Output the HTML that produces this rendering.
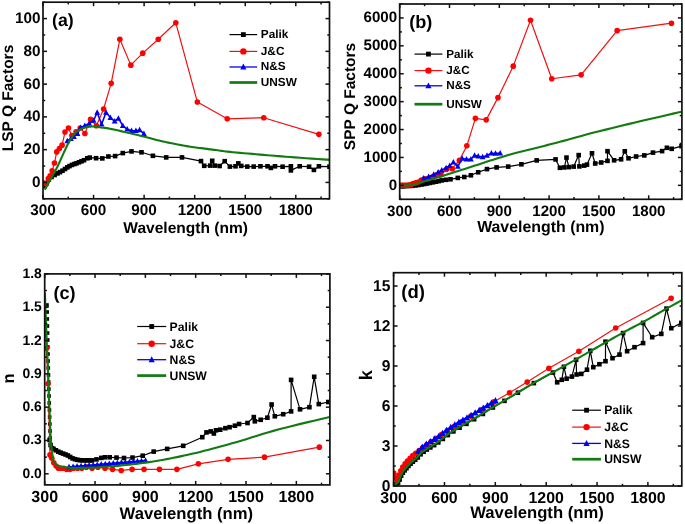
<!DOCTYPE html>
<html><head><meta charset="utf-8"><style>
html,body{margin:0;padding:0;background:#fff;}
body{width:685px;height:524px;overflow:hidden;}
svg{display:block;filter:blur(0.35px);text-rendering:geometricPrecision;}
</style></head><body>
<svg width="685" height="524" viewBox="0 0 685 524">
<rect width="685" height="524" fill="#fff"/>
<clipPath id="ca"><rect x="43" y="2.2" width="286.5" height="196.6"/></clipPath>
<clipPath id="cb"><rect x="399.7" y="4" width="282.2" height="195.3"/></clipPath>
<clipPath id="cc"><rect x="44.7" y="273.9" width="285.2" height="211"/></clipPath>
<clipPath id="cd"><rect x="393.6" y="272.7" width="288.2" height="213.3"/></clipPath>
<g font-family='"Liberation Sans", sans-serif' font-weight="bold" fill="#000">
<g clip-path="url(#ca)">
<polyline points="44.5,186 46.5,183 48.8,179.6 51.5,177 54.6,175 57.5,173.4 60,172.1 62.5,170.7 65,169 67.3,167.4 69.5,166.1 72,164.9 74.5,164 76.5,163.3 79,162.3 81.5,161.3 84,160.2 87.3,158.3 89.8,157.6 96.1,158.2 102.3,158.4 108.4,156.5 115.1,156.1 122.8,153.1 131.5,151.4 141.5,152.3 152.9,155.8 166.2,157.4 182,157.4 201,161.1 204.2,165.8 210.2,165.6 212.2,160.8 214.7,165.6 219.6,166 224.7,161.2 229.9,166.6 235.5,166.3 238.3,163.4 241.2,165.9 247.3,166.6 253.7,166.6 260.4,166.3 267.5,166.3 270.9,167.9 275,166.3 282.6,166.7 290.9,166.3 290.9,170.4 299.7,166.3 309.1,166.7 313.9,169.9 318.9,166.3 329.5,166.7" fill="none" stroke="#000" stroke-width="1.2" stroke-linejoin="round" />
<rect x="42.2" y="183.7" width="4.6" height="4.6" fill="#000"/>
<rect x="44.2" y="180.7" width="4.6" height="4.6" fill="#000"/>
<rect x="46.5" y="177.3" width="4.6" height="4.6" fill="#000"/>
<rect x="49.2" y="174.7" width="4.6" height="4.6" fill="#000"/>
<rect x="52.3" y="172.7" width="4.6" height="4.6" fill="#000"/>
<rect x="55.2" y="171.1" width="4.6" height="4.6" fill="#000"/>
<rect x="57.7" y="169.8" width="4.6" height="4.6" fill="#000"/>
<rect x="60.2" y="168.4" width="4.6" height="4.6" fill="#000"/>
<rect x="62.7" y="166.7" width="4.6" height="4.6" fill="#000"/>
<rect x="65" y="165.1" width="4.6" height="4.6" fill="#000"/>
<rect x="67.2" y="163.8" width="4.6" height="4.6" fill="#000"/>
<rect x="69.7" y="162.6" width="4.6" height="4.6" fill="#000"/>
<rect x="72.2" y="161.7" width="4.6" height="4.6" fill="#000"/>
<rect x="74.2" y="161" width="4.6" height="4.6" fill="#000"/>
<rect x="76.7" y="160" width="4.6" height="4.6" fill="#000"/>
<rect x="79.2" y="159" width="4.6" height="4.6" fill="#000"/>
<rect x="81.7" y="157.9" width="4.6" height="4.6" fill="#000"/>
<rect x="85" y="156" width="4.6" height="4.6" fill="#000"/>
<rect x="87.5" y="155.3" width="4.6" height="4.6" fill="#000"/>
<rect x="93.8" y="155.9" width="4.6" height="4.6" fill="#000"/>
<rect x="100" y="156.1" width="4.6" height="4.6" fill="#000"/>
<rect x="106.1" y="154.2" width="4.6" height="4.6" fill="#000"/>
<rect x="112.8" y="153.8" width="4.6" height="4.6" fill="#000"/>
<rect x="120.5" y="150.8" width="4.6" height="4.6" fill="#000"/>
<rect x="129.2" y="149.1" width="4.6" height="4.6" fill="#000"/>
<rect x="139.2" y="150" width="4.6" height="4.6" fill="#000"/>
<rect x="150.6" y="153.5" width="4.6" height="4.6" fill="#000"/>
<rect x="163.9" y="155.1" width="4.6" height="4.6" fill="#000"/>
<rect x="179.7" y="155.1" width="4.6" height="4.6" fill="#000"/>
<rect x="198.7" y="158.8" width="4.6" height="4.6" fill="#000"/>
<rect x="201.9" y="163.5" width="4.6" height="4.6" fill="#000"/>
<rect x="207.9" y="163.3" width="4.6" height="4.6" fill="#000"/>
<rect x="209.9" y="158.5" width="4.6" height="4.6" fill="#000"/>
<rect x="212.4" y="163.3" width="4.6" height="4.6" fill="#000"/>
<rect x="217.3" y="163.7" width="4.6" height="4.6" fill="#000"/>
<rect x="222.4" y="158.9" width="4.6" height="4.6" fill="#000"/>
<rect x="227.6" y="164.3" width="4.6" height="4.6" fill="#000"/>
<rect x="233.2" y="164" width="4.6" height="4.6" fill="#000"/>
<rect x="236" y="161.1" width="4.6" height="4.6" fill="#000"/>
<rect x="238.9" y="163.6" width="4.6" height="4.6" fill="#000"/>
<rect x="245" y="164.3" width="4.6" height="4.6" fill="#000"/>
<rect x="251.4" y="164.3" width="4.6" height="4.6" fill="#000"/>
<rect x="258.1" y="164" width="4.6" height="4.6" fill="#000"/>
<rect x="265.2" y="164" width="4.6" height="4.6" fill="#000"/>
<rect x="268.6" y="165.6" width="4.6" height="4.6" fill="#000"/>
<rect x="272.7" y="164" width="4.6" height="4.6" fill="#000"/>
<rect x="280.3" y="164.4" width="4.6" height="4.6" fill="#000"/>
<rect x="288.6" y="164" width="4.6" height="4.6" fill="#000"/>
<rect x="288.6" y="168.1" width="4.6" height="4.6" fill="#000"/>
<rect x="297.4" y="164" width="4.6" height="4.6" fill="#000"/>
<rect x="306.8" y="164.4" width="4.6" height="4.6" fill="#000"/>
<rect x="311.6" y="167.6" width="4.6" height="4.6" fill="#000"/>
<rect x="316.6" y="164" width="4.6" height="4.6" fill="#000"/>
<rect x="327.2" y="164.4" width="4.6" height="4.6" fill="#000"/>
<polyline points="43.15,182.97 44.8,183.47 46.44,183.71 48.31,178.59 50.16,175.84 52.13,170.85 54.44,163.06 56.74,151.9 59.41,148.52 62.09,145.16 64.99,132.01 68.43,128.02 71.89,135.43 76.01,131.76 80.23,127.97 84.9,133.47 90.54,119.22 96.39,125.74 103.59,108.98 111.17,83.35 119.85,39.29 130.82,65.14 142.77,53.16 158.27,39.23 175.8,22.79 197.37,102.07 227.2,118.78 263.77,117.71 318.88,134.37" fill="none" stroke="#f01010" stroke-width="1.2" stroke-linejoin="round" />
<circle cx="43.15" cy="182.97" r="2.8" fill="#f00"/>
<circle cx="44.8" cy="183.47" r="2.8" fill="#f00"/>
<circle cx="46.44" cy="183.71" r="2.8" fill="#f00"/>
<circle cx="48.31" cy="178.59" r="2.8" fill="#f00"/>
<circle cx="50.16" cy="175.84" r="2.8" fill="#f00"/>
<circle cx="52.13" cy="170.85" r="2.8" fill="#f00"/>
<circle cx="54.44" cy="163.06" r="2.8" fill="#f00"/>
<circle cx="56.74" cy="151.9" r="2.8" fill="#f00"/>
<circle cx="59.41" cy="148.52" r="2.8" fill="#f00"/>
<circle cx="62.09" cy="145.16" r="2.8" fill="#f00"/>
<circle cx="64.99" cy="132.01" r="2.8" fill="#f00"/>
<circle cx="68.43" cy="128.02" r="2.8" fill="#f00"/>
<circle cx="71.89" cy="135.43" r="2.8" fill="#f00"/>
<circle cx="76.01" cy="131.76" r="2.8" fill="#f00"/>
<circle cx="80.23" cy="127.97" r="2.8" fill="#f00"/>
<circle cx="84.9" cy="133.47" r="2.8" fill="#f00"/>
<circle cx="90.54" cy="119.22" r="2.8" fill="#f00"/>
<circle cx="96.39" cy="125.74" r="2.8" fill="#f00"/>
<circle cx="103.59" cy="108.98" r="2.8" fill="#f00"/>
<circle cx="111.17" cy="83.35" r="2.8" fill="#f00"/>
<circle cx="119.85" cy="39.29" r="2.8" fill="#f00"/>
<circle cx="130.82" cy="65.14" r="2.8" fill="#f00"/>
<circle cx="142.77" cy="53.16" r="2.8" fill="#f00"/>
<circle cx="158.27" cy="39.23" r="2.8" fill="#f00"/>
<circle cx="175.8" cy="22.79" r="2.8" fill="#f00"/>
<circle cx="197.37" cy="102.07" r="2.8" fill="#f00"/>
<circle cx="227.2" cy="118.78" r="2.8" fill="#f00"/>
<circle cx="263.77" cy="117.71" r="2.8" fill="#f00"/>
<circle cx="318.88" cy="134.37" r="2.8" fill="#f00"/>
<polyline points="67.3,141 70.9,138.8 73.9,136.6 77.5,133.7 80.4,127.8 84.8,125.7 89.2,123.5 93.6,120.5 97.2,112.5 101.6,124.2 106,112.5 110.4,117.6 114.7,121.3 118.4,118.4 122.8,125.7 127.2,129.3 131.5,130.8 135.9,130.8 139.6,130 143.9,133.7" fill="none" stroke="#0000f0" stroke-width="1.6" stroke-linejoin="round" />
<path d="M67.3 137.81L70.2 143.32L64.4 143.32Z" fill="#0000f0"/>
<path d="M70.9 135.61L73.8 141.12L68 141.12Z" fill="#0000f0"/>
<path d="M73.9 133.41L76.8 138.92L71 138.92Z" fill="#0000f0"/>
<path d="M77.5 130.51L80.4 136.02L74.6 136.02Z" fill="#0000f0"/>
<path d="M80.4 124.61L83.3 130.12L77.5 130.12Z" fill="#0000f0"/>
<path d="M84.8 122.51L87.7 128.02L81.9 128.02Z" fill="#0000f0"/>
<path d="M89.2 120.31L92.1 125.82L86.3 125.82Z" fill="#0000f0"/>
<path d="M93.6 117.31L96.5 122.82L90.7 122.82Z" fill="#0000f0"/>
<path d="M97.2 109.31L100.1 114.82L94.3 114.82Z" fill="#0000f0"/>
<path d="M101.6 121.01L104.5 126.52L98.7 126.52Z" fill="#0000f0"/>
<path d="M106 109.31L108.9 114.82L103.1 114.82Z" fill="#0000f0"/>
<path d="M110.4 114.41L113.3 119.92L107.5 119.92Z" fill="#0000f0"/>
<path d="M114.7 118.11L117.6 123.62L111.8 123.62Z" fill="#0000f0"/>
<path d="M118.4 115.21L121.3 120.72L115.5 120.72Z" fill="#0000f0"/>
<path d="M122.8 122.51L125.7 128.02L119.9 128.02Z" fill="#0000f0"/>
<path d="M127.2 126.11L130.1 131.62L124.3 131.62Z" fill="#0000f0"/>
<path d="M131.5 127.61L134.4 133.12L128.6 133.12Z" fill="#0000f0"/>
<path d="M135.9 127.61L138.8 133.12L133 133.12Z" fill="#0000f0"/>
<path d="M139.6 126.81L142.5 132.32L136.7 132.32Z" fill="#0000f0"/>
<path d="M143.9 130.51L146.8 136.02L141 136.02Z" fill="#0000f0"/>
<polyline points="44.6,189.6 44.65,189.54 44.7,189.5 44.76,189.45 44.84,189.38 44.94,189.26 45.08,189.07 45.26,188.79 45.5,188.4 45.81,187.87 46.18,187.21 46.61,186.45 47.07,185.63 47.54,184.77 48.02,183.9 48.48,183.07 48.9,182.3 49.28,181.6 49.63,180.94 49.97,180.31 50.3,179.68 50.65,179.02 51.02,178.32 51.43,177.55 51.9,176.7 52.43,175.76 53.01,174.75 53.63,173.69 54.27,172.58 54.94,171.43 55.6,170.24 56.26,169.03 56.9,167.8 57.53,166.53 58.15,165.21 58.78,163.85 59.41,162.46 60.03,161.06 60.66,159.66 61.28,158.27 61.9,156.9 62.53,155.52 63.18,154.09 63.83,152.65 64.48,151.22 65.11,149.83 65.71,148.51 66.28,147.29 66.8,146.2 67.25,145.27 67.63,144.48 67.97,143.8 68.28,143.19 68.6,142.6 68.94,142 69.33,141.35 69.8,140.6 70.34,139.75 70.94,138.82 71.58,137.84 72.24,136.85 72.93,135.87 73.63,134.93 74.32,134.07 75,133.3 75.66,132.63 76.32,132.03 76.98,131.48 77.65,130.99 78.33,130.53 79.03,130.1 79.75,129.7 80.5,129.3 81.29,128.92 82.11,128.56 82.95,128.23 83.81,127.93 84.69,127.65 85.56,127.4 86.44,127.18 87.3,127 88.15,126.85 89,126.73 89.84,126.65 90.69,126.59 91.54,126.56 92.41,126.56 93.29,126.57 94.2,126.6 95.14,126.66 96.12,126.76 97.13,126.88 98.14,127.03 99.15,127.18 100.14,127.33 101.1,127.47 102,127.6 102.77,127.69 103.4,127.74 103.95,127.78 104.49,127.83 105.12,127.89 105.89,127.99 106.9,128.16 108.2,128.4 109.84,128.73 111.75,129.12 113.87,129.57 116.16,130.06 118.54,130.58 120.96,131.12 123.37,131.67 125.7,132.2 128.02,132.74 130.43,133.31 132.87,133.9 135.33,134.5 137.77,135.1 140.14,135.69 142.43,136.26 144.6,136.8 146.63,137.32 148.55,137.82 150.39,138.31 152.17,138.79 153.91,139.26 155.65,139.72 157.4,140.16 159.2,140.6 161.02,141.02 162.85,141.43 164.67,141.83 166.5,142.22 168.32,142.6 170.15,142.97 171.97,143.34 173.8,143.7 175.62,144.06 177.45,144.42 179.28,144.77 181.1,145.12 182.93,145.46 184.75,145.78 186.58,146.1 188.4,146.4 190.22,146.68 192.05,146.95 193.88,147.21 195.7,147.45 197.53,147.69 199.35,147.92 201.18,148.16 203,148.4 204.84,148.64 206.7,148.89 208.57,149.13 210.44,149.38 212.29,149.61 214.1,149.85 215.88,150.08 217.6,150.3 219.13,150.51 220.44,150.7 221.64,150.87 222.84,151.05 224.16,151.23 225.71,151.43 227.62,151.65 230,151.9 232.91,152.19 236.26,152.5 239.96,152.85 243.9,153.2 247.98,153.56 252.09,153.92 256.13,154.27 260,154.6 263.68,154.91 267.27,155.21 270.81,155.5 274.38,155.79 278.02,156.08 281.8,156.37 285.77,156.68 290,157 294.79,157.36 300.23,157.76 306.03,158.18 311.88,158.6 317.49,159 322.58,159.37 326.85,159.67 330,159.9" fill="none" stroke="#117a11" stroke-width="2.1" stroke-linejoin="round" />
</g>
<g clip-path="url(#cb)">
<polyline points="400.8,186.2 402.5,186.2 404.5,186.1 407,186 409.5,185.9 412.5,185.8 415.5,185.4 418.5,185 421.5,184.5 424.2,184 427,183.5 430,182.9 433,182.3 436,181.7 438.8,181.1 441.7,180.4 446,179.8 450.5,179.3 457.8,177.9 464.3,177 470.9,175.3 478.2,172.3 487,169.1 496.6,167.4 508.2,166.6 521.4,164.3 536.7,160.4 555.6,159.4 559.9,167.8 564.4,167.4 566.5,157.6 568.9,167.1 573.7,166.6 578.7,155.1 579.4,166.4 584.2,165.6 587,164.6 592,153.3 595.2,163.5 601.2,162.5 607.5,160.9 607.5,151.2 614.1,160.3 621.1,159.3 624.8,151.3 628.5,158.3 636.1,156.5 644.3,155.4 653,152.6 662.1,151.1 666.9,147.8 671.7,148.8 681.5,146.2" fill="none" stroke="#000" stroke-width="1.2" stroke-linejoin="round" />
<rect x="398.5" y="183.9" width="4.6" height="4.6" fill="#000"/>
<rect x="400.2" y="183.9" width="4.6" height="4.6" fill="#000"/>
<rect x="402.2" y="183.8" width="4.6" height="4.6" fill="#000"/>
<rect x="404.7" y="183.7" width="4.6" height="4.6" fill="#000"/>
<rect x="407.2" y="183.6" width="4.6" height="4.6" fill="#000"/>
<rect x="410.2" y="183.5" width="4.6" height="4.6" fill="#000"/>
<rect x="413.2" y="183.1" width="4.6" height="4.6" fill="#000"/>
<rect x="416.2" y="182.7" width="4.6" height="4.6" fill="#000"/>
<rect x="419.2" y="182.2" width="4.6" height="4.6" fill="#000"/>
<rect x="421.9" y="181.7" width="4.6" height="4.6" fill="#000"/>
<rect x="424.7" y="181.2" width="4.6" height="4.6" fill="#000"/>
<rect x="427.7" y="180.6" width="4.6" height="4.6" fill="#000"/>
<rect x="430.7" y="180" width="4.6" height="4.6" fill="#000"/>
<rect x="433.7" y="179.4" width="4.6" height="4.6" fill="#000"/>
<rect x="436.5" y="178.8" width="4.6" height="4.6" fill="#000"/>
<rect x="439.4" y="178.1" width="4.6" height="4.6" fill="#000"/>
<rect x="443.7" y="177.5" width="4.6" height="4.6" fill="#000"/>
<rect x="448.2" y="177" width="4.6" height="4.6" fill="#000"/>
<rect x="455.5" y="175.6" width="4.6" height="4.6" fill="#000"/>
<rect x="462" y="174.7" width="4.6" height="4.6" fill="#000"/>
<rect x="468.6" y="173" width="4.6" height="4.6" fill="#000"/>
<rect x="475.9" y="170" width="4.6" height="4.6" fill="#000"/>
<rect x="484.7" y="166.8" width="4.6" height="4.6" fill="#000"/>
<rect x="494.3" y="165.1" width="4.6" height="4.6" fill="#000"/>
<rect x="505.9" y="164.3" width="4.6" height="4.6" fill="#000"/>
<rect x="519.1" y="162" width="4.6" height="4.6" fill="#000"/>
<rect x="534.4" y="158.1" width="4.6" height="4.6" fill="#000"/>
<rect x="553.3" y="157.1" width="4.6" height="4.6" fill="#000"/>
<rect x="557.6" y="165.5" width="4.6" height="4.6" fill="#000"/>
<rect x="562.1" y="165.1" width="4.6" height="4.6" fill="#000"/>
<rect x="564.2" y="155.3" width="4.6" height="4.6" fill="#000"/>
<rect x="566.6" y="164.8" width="4.6" height="4.6" fill="#000"/>
<rect x="571.4" y="164.3" width="4.6" height="4.6" fill="#000"/>
<rect x="576.4" y="152.8" width="4.6" height="4.6" fill="#000"/>
<rect x="577.1" y="164.1" width="4.6" height="4.6" fill="#000"/>
<rect x="581.9" y="163.3" width="4.6" height="4.6" fill="#000"/>
<rect x="584.7" y="162.3" width="4.6" height="4.6" fill="#000"/>
<rect x="589.7" y="151" width="4.6" height="4.6" fill="#000"/>
<rect x="592.9" y="161.2" width="4.6" height="4.6" fill="#000"/>
<rect x="598.9" y="160.2" width="4.6" height="4.6" fill="#000"/>
<rect x="605.2" y="158.6" width="4.6" height="4.6" fill="#000"/>
<rect x="605.2" y="148.9" width="4.6" height="4.6" fill="#000"/>
<rect x="611.8" y="158" width="4.6" height="4.6" fill="#000"/>
<rect x="618.8" y="157" width="4.6" height="4.6" fill="#000"/>
<rect x="622.5" y="149" width="4.6" height="4.6" fill="#000"/>
<rect x="626.2" y="156" width="4.6" height="4.6" fill="#000"/>
<rect x="633.8" y="154.2" width="4.6" height="4.6" fill="#000"/>
<rect x="642" y="153.1" width="4.6" height="4.6" fill="#000"/>
<rect x="650.7" y="150.3" width="4.6" height="4.6" fill="#000"/>
<rect x="659.8" y="148.8" width="4.6" height="4.6" fill="#000"/>
<rect x="664.6" y="145.5" width="4.6" height="4.6" fill="#000"/>
<rect x="669.4" y="146.5" width="4.6" height="4.6" fill="#000"/>
<rect x="679.2" y="143.9" width="4.6" height="4.6" fill="#000"/>
<polyline points="399.85,185.34 401.48,185.33 403.09,185.34 404.93,185.31 406.75,185.21 408.7,184.96 410.97,184.45 413.23,183.55 415.87,182.88 418.51,182.07 421.36,180.15 424.75,178.81 428.15,178.77 432.22,177.1 436.37,175.11 440.97,174.63 446.53,169.33 452.29,168.72 459.38,160.22 466.85,145.86 475.4,118.37 486.2,119.85 497.97,97.65 513.24,66.15 530.51,20.18 551.76,78.73 581.14,74.83 617.16,30.65 671.44,23.2" fill="none" stroke="#f01010" stroke-width="1.2" stroke-linejoin="round" />
<circle cx="399.85" cy="185.34" r="2.8" fill="#f00"/>
<circle cx="401.48" cy="185.33" r="2.8" fill="#f00"/>
<circle cx="403.09" cy="185.34" r="2.8" fill="#f00"/>
<circle cx="404.93" cy="185.31" r="2.8" fill="#f00"/>
<circle cx="406.75" cy="185.21" r="2.8" fill="#f00"/>
<circle cx="408.7" cy="184.96" r="2.8" fill="#f00"/>
<circle cx="410.97" cy="184.45" r="2.8" fill="#f00"/>
<circle cx="413.23" cy="183.55" r="2.8" fill="#f00"/>
<circle cx="415.87" cy="182.88" r="2.8" fill="#f00"/>
<circle cx="418.51" cy="182.07" r="2.8" fill="#f00"/>
<circle cx="421.36" cy="180.15" r="2.8" fill="#f00"/>
<circle cx="424.75" cy="178.81" r="2.8" fill="#f00"/>
<circle cx="428.15" cy="178.77" r="2.8" fill="#f00"/>
<circle cx="432.22" cy="177.1" r="2.8" fill="#f00"/>
<circle cx="436.37" cy="175.11" r="2.8" fill="#f00"/>
<circle cx="440.97" cy="174.63" r="2.8" fill="#f00"/>
<circle cx="446.53" cy="169.33" r="2.8" fill="#f00"/>
<circle cx="452.29" cy="168.72" r="2.8" fill="#f00"/>
<circle cx="459.38" cy="160.22" r="2.8" fill="#f00"/>
<circle cx="466.85" cy="145.86" r="2.8" fill="#f00"/>
<circle cx="475.4" cy="118.37" r="2.8" fill="#f00"/>
<circle cx="486.2" cy="119.85" r="2.8" fill="#f00"/>
<circle cx="497.97" cy="97.65" r="2.8" fill="#f00"/>
<circle cx="513.24" cy="66.15" r="2.8" fill="#f00"/>
<circle cx="530.51" cy="20.18" r="2.8" fill="#f00"/>
<circle cx="551.76" cy="78.73" r="2.8" fill="#f00"/>
<circle cx="581.14" cy="74.83" r="2.8" fill="#f00"/>
<circle cx="617.16" cy="30.65" r="2.8" fill="#f00"/>
<circle cx="671.44" cy="23.2" r="2.8" fill="#f00"/>
<polyline points="423.5,178.2 428.6,176.7 433.7,174.5 438.1,172.3 441.7,170.1 446.1,168 449.7,165.8 453.4,162.1 457.8,166.5 462.2,158.5 466.5,159.2 470.9,159.2 474.6,155.5 478.2,156.3 482.6,157 487,155.5 491.4,153.3 495.5,153.5 500.2,153.1" fill="none" stroke="#0000f0" stroke-width="1.6" stroke-linejoin="round" />
<path d="M423.5 175.01L426.4 180.52L420.6 180.52Z" fill="#0000f0"/>
<path d="M428.6 173.51L431.5 179.02L425.7 179.02Z" fill="#0000f0"/>
<path d="M433.7 171.31L436.6 176.82L430.8 176.82Z" fill="#0000f0"/>
<path d="M438.1 169.11L441 174.62L435.2 174.62Z" fill="#0000f0"/>
<path d="M441.7 166.91L444.6 172.42L438.8 172.42Z" fill="#0000f0"/>
<path d="M446.1 164.81L449 170.32L443.2 170.32Z" fill="#0000f0"/>
<path d="M449.7 162.61L452.6 168.12L446.8 168.12Z" fill="#0000f0"/>
<path d="M453.4 158.91L456.3 164.42L450.5 164.42Z" fill="#0000f0"/>
<path d="M457.8 163.31L460.7 168.82L454.9 168.82Z" fill="#0000f0"/>
<path d="M462.2 155.31L465.1 160.82L459.3 160.82Z" fill="#0000f0"/>
<path d="M466.5 156.01L469.4 161.52L463.6 161.52Z" fill="#0000f0"/>
<path d="M470.9 156.01L473.8 161.52L468 161.52Z" fill="#0000f0"/>
<path d="M474.6 152.31L477.5 157.82L471.7 157.82Z" fill="#0000f0"/>
<path d="M478.2 153.11L481.1 158.62L475.3 158.62Z" fill="#0000f0"/>
<path d="M482.6 153.81L485.5 159.32L479.7 159.32Z" fill="#0000f0"/>
<path d="M487 152.31L489.9 157.82L484.1 157.82Z" fill="#0000f0"/>
<path d="M491.4 150.11L494.3 155.62L488.5 155.62Z" fill="#0000f0"/>
<path d="M495.5 150.31L498.4 155.82L492.6 155.82Z" fill="#0000f0"/>
<path d="M500.2 149.91L503.1 155.42L497.3 155.42Z" fill="#0000f0"/>
<polyline points="400.3,185.6 400.88,185.58 401.62,185.57 402.5,185.55 403.5,185.53 404.58,185.48 405.7,185.42 406.86,185.33 408,185.2 409.16,185.04 410.38,184.85 411.65,184.64 412.96,184.4 414.29,184.14 415.65,183.85 417.02,183.54 418.4,183.2 419.79,182.83 421.21,182.41 422.66,181.96 424.12,181.49 425.59,181.01 427.06,180.52 428.54,180.05 430,179.6 431.43,179.18 432.82,178.77 434.2,178.38 435.59,177.99 437.01,177.58 438.48,177.16 440.04,176.7 441.7,176.2 443.47,175.66 445.32,175.08 447.25,174.47 449.24,173.84 451.27,173.19 453.33,172.53 455.42,171.86 457.5,171.2 459.61,170.53 461.76,169.84 463.94,169.15 466.14,168.44 468.36,167.73 470.59,167.02 472.8,166.31 475,165.6 477.18,164.89 479.35,164.18 481.52,163.47 483.69,162.75 485.86,162.03 488.05,161.32 490.26,160.61 492.5,159.9 494.73,159.2 496.93,158.5 499.12,157.81 501.34,157.13 503.62,156.43 505.96,155.73 508.42,155.02 511,154.3 513.73,153.56 516.59,152.82 519.55,152.06 522.59,151.3 525.69,150.53 528.8,149.76 531.91,148.98 535,148.2 538.04,147.43 541.06,146.66 544.08,145.9 547.12,145.13 550.21,144.35 553.38,143.53 556.63,142.69 560,141.8 563.41,140.88 566.8,139.94 570.22,138.98 573.75,137.99 577.43,136.97 581.33,135.9 585.5,134.78 590,133.6 594.9,132.35 600.16,131.02 605.71,129.64 611.47,128.21 617.36,126.77 623.29,125.32 629.2,123.89 635,122.5 641.06,121.06 647.61,119.53 654.37,117.95 661.06,116.41 667.4,114.95 673.11,113.63 677.9,112.53 681.5,111.7" fill="none" stroke="#117a11" stroke-width="2.1" stroke-linejoin="round" />
</g>
<g clip-path="url(#cc)">
<polyline points="50.22,438 49.6,440 50.6,445 52,448.2 53.5,448.9 55.9,450.3 58.3,451.7 60.7,452.7 63.1,453.6 65.5,454.5 67.9,455.5 70.2,457 72.6,458.4 75,459.2 77.4,459.8 80,460.2 82.2,460.3 85,460.4 87.5,460.3 89.8,460.4 92,460.4 96.5,459.4 101.3,457.9 104.9,457.3 109.7,457.3 116.5,457.6 124,458 132.5,457.6 142.7,455.7 153.7,451.6 167.2,448.9 183.2,445.8 202.3,437.2 206.5,432.4 210.7,431.4 213.9,433.5 216,430.3 220.2,429.7 225.4,428.2 229.6,427.2 234.9,425.7 239.1,424 247.5,423 253.8,417.1 254.8,421.3 260.7,419.8 267.4,417.7 271.6,404.5 274.8,416.3 283.2,414.2 291.1,411.4 291.1,379.9 300,409.3 309.4,407.2 314.2,376.8 318.8,404.1 328.3,402" fill="none" stroke="#000" stroke-width="1.2" stroke-linejoin="round" />
<rect x="45.2" y="303.2" width="3.6" height="3.6" fill="#000"/>
<rect x="45.34" y="310.2" width="3.6" height="3.6" fill="#000"/>
<rect x="45.48" y="317.2" width="3.6" height="3.6" fill="#000"/>
<rect x="45.62" y="324.2" width="3.6" height="3.6" fill="#000"/>
<rect x="45.76" y="331.2" width="3.6" height="3.6" fill="#000"/>
<rect x="45.9" y="338.2" width="3.6" height="3.6" fill="#000"/>
<rect x="46.04" y="345.2" width="3.6" height="3.6" fill="#000"/>
<rect x="46.18" y="352.2" width="3.6" height="3.6" fill="#000"/>
<rect x="46.32" y="359.2" width="3.6" height="3.6" fill="#000"/>
<rect x="46.48" y="366.2" width="3.6" height="3.6" fill="#000"/>
<rect x="46.68" y="373.2" width="3.6" height="3.6" fill="#000"/>
<rect x="46.87" y="380.2" width="3.6" height="3.6" fill="#000"/>
<rect x="47.06" y="387.2" width="3.6" height="3.6" fill="#000"/>
<rect x="47.26" y="394.2" width="3.6" height="3.6" fill="#000"/>
<rect x="47.45" y="401.2" width="3.6" height="3.6" fill="#000"/>
<rect x="47.65" y="408.2" width="3.6" height="3.6" fill="#000"/>
<rect x="47.84" y="415.2" width="3.6" height="3.6" fill="#000"/>
<rect x="48.03" y="422.2" width="3.6" height="3.6" fill="#000"/>
<rect x="48.23" y="429.2" width="3.6" height="3.6" fill="#000"/>
<rect x="48.42" y="436.2" width="3.6" height="3.6" fill="#000"/>
<rect x="47.3" y="437.7" width="4.6" height="4.6" fill="#000"/>
<rect x="48.3" y="442.7" width="4.6" height="4.6" fill="#000"/>
<rect x="49.7" y="445.9" width="4.6" height="4.6" fill="#000"/>
<rect x="51.2" y="446.6" width="4.6" height="4.6" fill="#000"/>
<rect x="53.6" y="448" width="4.6" height="4.6" fill="#000"/>
<rect x="56" y="449.4" width="4.6" height="4.6" fill="#000"/>
<rect x="58.4" y="450.4" width="4.6" height="4.6" fill="#000"/>
<rect x="60.8" y="451.3" width="4.6" height="4.6" fill="#000"/>
<rect x="63.2" y="452.2" width="4.6" height="4.6" fill="#000"/>
<rect x="65.6" y="453.2" width="4.6" height="4.6" fill="#000"/>
<rect x="67.9" y="454.7" width="4.6" height="4.6" fill="#000"/>
<rect x="70.3" y="456.1" width="4.6" height="4.6" fill="#000"/>
<rect x="72.7" y="456.9" width="4.6" height="4.6" fill="#000"/>
<rect x="75.1" y="457.5" width="4.6" height="4.6" fill="#000"/>
<rect x="77.7" y="457.9" width="4.6" height="4.6" fill="#000"/>
<rect x="79.9" y="458" width="4.6" height="4.6" fill="#000"/>
<rect x="82.7" y="458.1" width="4.6" height="4.6" fill="#000"/>
<rect x="85.2" y="458" width="4.6" height="4.6" fill="#000"/>
<rect x="87.5" y="458.1" width="4.6" height="4.6" fill="#000"/>
<rect x="89.7" y="458.1" width="4.6" height="4.6" fill="#000"/>
<rect x="94.2" y="457.1" width="4.6" height="4.6" fill="#000"/>
<rect x="99" y="455.6" width="4.6" height="4.6" fill="#000"/>
<rect x="102.6" y="455" width="4.6" height="4.6" fill="#000"/>
<rect x="107.4" y="455" width="4.6" height="4.6" fill="#000"/>
<rect x="114.2" y="455.3" width="4.6" height="4.6" fill="#000"/>
<rect x="121.7" y="455.7" width="4.6" height="4.6" fill="#000"/>
<rect x="130.2" y="455.3" width="4.6" height="4.6" fill="#000"/>
<rect x="140.4" y="453.4" width="4.6" height="4.6" fill="#000"/>
<rect x="151.4" y="449.3" width="4.6" height="4.6" fill="#000"/>
<rect x="164.9" y="446.6" width="4.6" height="4.6" fill="#000"/>
<rect x="180.9" y="443.5" width="4.6" height="4.6" fill="#000"/>
<rect x="200" y="434.9" width="4.6" height="4.6" fill="#000"/>
<rect x="204.2" y="430.1" width="4.6" height="4.6" fill="#000"/>
<rect x="208.4" y="429.1" width="4.6" height="4.6" fill="#000"/>
<rect x="211.6" y="431.2" width="4.6" height="4.6" fill="#000"/>
<rect x="213.7" y="428" width="4.6" height="4.6" fill="#000"/>
<rect x="217.9" y="427.4" width="4.6" height="4.6" fill="#000"/>
<rect x="223.1" y="425.9" width="4.6" height="4.6" fill="#000"/>
<rect x="227.3" y="424.9" width="4.6" height="4.6" fill="#000"/>
<rect x="232.6" y="423.4" width="4.6" height="4.6" fill="#000"/>
<rect x="236.8" y="421.7" width="4.6" height="4.6" fill="#000"/>
<rect x="245.2" y="420.7" width="4.6" height="4.6" fill="#000"/>
<rect x="251.5" y="414.8" width="4.6" height="4.6" fill="#000"/>
<rect x="252.5" y="419" width="4.6" height="4.6" fill="#000"/>
<rect x="258.4" y="417.5" width="4.6" height="4.6" fill="#000"/>
<rect x="265.1" y="415.4" width="4.6" height="4.6" fill="#000"/>
<rect x="269.3" y="402.2" width="4.6" height="4.6" fill="#000"/>
<rect x="272.5" y="414" width="4.6" height="4.6" fill="#000"/>
<rect x="280.9" y="411.9" width="4.6" height="4.6" fill="#000"/>
<rect x="288.8" y="409.1" width="4.6" height="4.6" fill="#000"/>
<rect x="288.8" y="377.6" width="4.6" height="4.6" fill="#000"/>
<rect x="297.7" y="407" width="4.6" height="4.6" fill="#000"/>
<rect x="307.1" y="404.9" width="4.6" height="4.6" fill="#000"/>
<rect x="311.9" y="374.5" width="4.6" height="4.6" fill="#000"/>
<rect x="316.5" y="401.8" width="4.6" height="4.6" fill="#000"/>
<rect x="326" y="399.7" width="4.6" height="4.6" fill="#000"/>
<polyline points="44.85,324.98 46.5,348.31 48.12,383.84 49.98,454.92 51.83,458.25 53.79,462.69 56.09,466.02 58.37,468.24 61.04,468.24 63.71,468.24 66.59,469.35 70.02,469.35 73.45,468.24 77.57,468.24 81.76,468.24 86.41,467.13 92.03,468.24 97.85,467.13 105.01,468.24 112.56,469.35 121.2,470.46 132.12,469.35 144.02,469.35 159.45,469.35 176.9,469.35 198.37,463.8 228.07,459.36 264.47,457.14 319.33,447.14" fill="none" stroke="#f01010" stroke-width="1.2" stroke-linejoin="round" />
<circle cx="44.85" cy="324.98" r="2.8" fill="#f00"/>
<circle cx="46.5" cy="348.31" r="2.8" fill="#f00"/>
<circle cx="48.12" cy="383.84" r="2.8" fill="#f00"/>
<circle cx="49.98" cy="454.92" r="2.8" fill="#f00"/>
<circle cx="51.83" cy="458.25" r="2.8" fill="#f00"/>
<circle cx="53.79" cy="462.69" r="2.8" fill="#f00"/>
<circle cx="56.09" cy="466.02" r="2.8" fill="#f00"/>
<circle cx="58.37" cy="468.24" r="2.8" fill="#f00"/>
<circle cx="61.04" cy="468.24" r="2.8" fill="#f00"/>
<circle cx="63.71" cy="468.24" r="2.8" fill="#f00"/>
<circle cx="66.59" cy="469.35" r="2.8" fill="#f00"/>
<circle cx="70.02" cy="469.35" r="2.8" fill="#f00"/>
<circle cx="73.45" cy="468.24" r="2.8" fill="#f00"/>
<circle cx="77.57" cy="468.24" r="2.8" fill="#f00"/>
<circle cx="81.76" cy="468.24" r="2.8" fill="#f00"/>
<circle cx="86.41" cy="467.13" r="2.8" fill="#f00"/>
<circle cx="92.03" cy="468.24" r="2.8" fill="#f00"/>
<circle cx="97.85" cy="467.13" r="2.8" fill="#f00"/>
<circle cx="105.01" cy="468.24" r="2.8" fill="#f00"/>
<circle cx="112.56" cy="469.35" r="2.8" fill="#f00"/>
<circle cx="121.2" cy="470.46" r="2.8" fill="#f00"/>
<circle cx="132.12" cy="469.35" r="2.8" fill="#f00"/>
<circle cx="144.02" cy="469.35" r="2.8" fill="#f00"/>
<circle cx="159.45" cy="469.35" r="2.8" fill="#f00"/>
<circle cx="176.9" cy="469.35" r="2.8" fill="#f00"/>
<circle cx="198.37" cy="463.8" r="2.8" fill="#f00"/>
<circle cx="228.07" cy="459.36" r="2.8" fill="#f00"/>
<circle cx="264.47" cy="457.14" r="2.8" fill="#f00"/>
<circle cx="319.33" cy="447.14" r="2.8" fill="#f00"/>
<polyline points="69.03,467 73.05,466.66 77.08,466.31 81.1,465.97 85.13,465.63 89.16,465.29 93.18,464.94 97.21,464.6 101.24,464.26 105.26,463.92 109.29,463.58 113.32,463.23 117.34,462.89 121.37,462.55 125.39,462.21 129.42,461.86 133.45,461.52 137.47,461.18 141.5,460.84 145.53,460.5" fill="none" stroke="#0000f0" stroke-width="1.6" stroke-linejoin="round" />
<path d="M69.03 463.81L71.93 469.32L66.13 469.32Z" fill="#0000f0"/>
<path d="M73.05 463.47L75.95 468.98L70.15 468.98Z" fill="#0000f0"/>
<path d="M77.08 463.12L79.98 468.63L74.18 468.63Z" fill="#0000f0"/>
<path d="M81.1 462.78L84 468.29L78.2 468.29Z" fill="#0000f0"/>
<path d="M85.13 462.44L88.03 467.95L82.23 467.95Z" fill="#0000f0"/>
<path d="M89.16 462.1L92.06 467.61L86.26 467.61Z" fill="#0000f0"/>
<path d="M93.18 461.75L96.08 467.26L90.28 467.26Z" fill="#0000f0"/>
<path d="M97.21 461.41L100.11 466.92L94.31 466.92Z" fill="#0000f0"/>
<path d="M101.24 461.07L104.14 466.58L98.34 466.58Z" fill="#0000f0"/>
<path d="M105.26 460.73L108.16 466.24L102.36 466.24Z" fill="#0000f0"/>
<path d="M109.29 460.39L112.19 465.9L106.39 465.9Z" fill="#0000f0"/>
<path d="M113.32 460.04L116.22 465.55L110.42 465.55Z" fill="#0000f0"/>
<path d="M117.34 459.7L120.24 465.21L114.44 465.21Z" fill="#0000f0"/>
<path d="M121.37 459.36L124.27 464.87L118.47 464.87Z" fill="#0000f0"/>
<path d="M125.39 459.02L128.29 464.53L122.49 464.53Z" fill="#0000f0"/>
<path d="M129.42 458.67L132.32 464.18L126.52 464.18Z" fill="#0000f0"/>
<path d="M133.45 458.33L136.35 463.84L130.55 463.84Z" fill="#0000f0"/>
<path d="M137.47 457.99L140.37 463.5L134.57 463.5Z" fill="#0000f0"/>
<path d="M141.5 457.65L144.4 463.16L138.6 463.16Z" fill="#0000f0"/>
<path d="M145.53 457.31L148.43 462.82L142.63 462.82Z" fill="#0000f0"/>
<polyline points="44.9,292.6 44.94,293.92 45,295.67 45.07,297.74 45.15,300.05 45.23,302.52 45.32,305.06 45.41,307.58 45.5,310 45.59,312.38 45.69,314.82 45.79,317.31 45.89,319.84 45.99,322.39 46.1,324.94 46.2,327.48 46.3,330 46.4,332.53 46.5,335.12 46.6,337.72 46.7,340.31 46.8,342.87 46.9,345.35 47,347.74 47.1,350 47.2,352.08 47.3,353.98 47.4,355.77 47.51,357.5 47.61,359.23 47.71,361.02 47.8,362.92 47.9,365 47.99,367.26 48.08,369.65 48.17,372.13 48.26,374.69 48.34,377.28 48.43,379.88 48.51,382.47 48.6,385 48.69,387.53 48.78,390.12 48.87,392.72 48.96,395.31 49.04,397.87 49.13,400.35 49.22,402.74 49.3,405 49.38,407.13 49.46,409.17 49.54,411.12 49.61,413 49.69,414.81 49.76,416.58 49.83,418.3 49.9,420 49.97,421.66 50.03,423.26 50.09,424.81 50.15,426.31 50.21,427.78 50.27,429.21 50.33,430.62 50.4,432 50.47,433.36 50.54,434.69 50.61,435.98 50.68,437.25 50.76,438.48 50.83,439.69 50.91,440.86 51,442 51.08,443.08 51.16,444.08 51.25,445.04 51.33,445.97 51.43,446.9 51.53,447.87 51.66,448.89 51.8,450 51.97,451.24 52.15,452.62 52.36,454.07 52.57,455.54 52.8,456.98 53.03,458.32 53.27,459.51 53.5,460.5 53.73,461.27 53.96,461.87 54.19,462.33 54.43,462.69 54.68,462.99 54.94,463.25 55.21,463.51 55.5,463.8 55.8,464.1 56.1,464.36 56.4,464.6 56.73,464.82 57.07,465.02 57.44,465.21 57.85,465.4 58.3,465.6 58.77,465.8 59.25,465.99 59.75,466.18 60.28,466.36 60.87,466.53 61.52,466.69 62.26,466.85 63.1,467 64.04,467.14 65.08,467.28 66.19,467.42 67.38,467.54 68.62,467.66 69.91,467.76 71.24,467.84 72.6,467.9 73.99,467.94 75.44,467.96 76.92,467.96 78.46,467.94 80.03,467.92 81.65,467.88 83.31,467.84 85,467.8 86.72,467.76 88.45,467.71 90.21,467.66 92.03,467.59 93.89,467.52 95.84,467.43 97.87,467.33 100,467.2 102.22,467.06 104.51,466.9 106.88,466.73 109.33,466.55 111.86,466.35 114.47,466.12 117.19,465.87 120,465.6 122.96,465.3 126.08,464.97 129.32,464.63 132.64,464.26 135.99,463.87 139.33,463.46 142.61,463.04 145.8,462.6 148.86,462.16 151.83,461.71 154.74,461.25 157.64,460.78 160.57,460.27 163.58,459.73 166.71,459.14 170,458.5 173.42,457.82 176.93,457.11 180.52,456.36 184.2,455.57 187.98,454.73 191.87,453.85 195.88,452.9 200,451.9 204.26,450.83 208.64,449.7 213.14,448.51 217.75,447.27 222.45,445.99 227.23,444.66 232.09,443.3 237,441.9 241.95,440.45 246.95,438.93 252.01,437.35 257.16,435.74 262.41,434.12 267.79,432.49 273.31,430.88 279,429.3 285.25,427.66 292.21,425.92 299.53,424.12 306.88,422.36 313.89,420.7 320.23,419.2 325.55,417.95 329.5,417" fill="none" stroke="#117a11" stroke-width="2.1" stroke-linejoin="round" />
</g>
<g clip-path="url(#cd)">
<polyline points="395.3,485.31 396.64,484.21 398.06,482.64 399.56,479.61 401.13,475.73 402.8,472.75 404.57,470.37 406.44,468.22 408.43,465.94 410.55,463.76 412.81,461.69 415.23,459.75 417.82,457.43 420.6,454.27 423.59,451.76 426.83,449.55 430.33,447.41 434.14,445.14 438.29,442.42 442.84,438.94 447.85,435.09 453.38,431.39 459.53,427.72 466.4,423.84 474.13,419.23 482.89,413.95 492.9,407.47 504.45,400.84 517.92,392.71 533.85,383.12 552.96,372.54 557.2,382.3 561.8,379.8 563.9,366.8 566.6,378.7 571.9,376.6 576.1,359.8 576.6,374.5 581.3,373.9 587,369.7 590.3,350.8 593.3,367.2 599.4,364.2 605.5,361.2 605.5,341.7 612.5,358.2 619.5,354.6 623.1,333.1 627.1,351.2 634.5,347.2 643.1,343.1 643.1,322.9 652.2,337.2 661.3,333.9 666.5,308.6 671.3,328.2 681.3,322.9" fill="none" stroke="#000" stroke-width="1.2" stroke-linejoin="round" />
<rect x="393" y="483.01" width="4.6" height="4.6" fill="#000"/>
<rect x="394.34" y="481.91" width="4.6" height="4.6" fill="#000"/>
<rect x="395.76" y="480.34" width="4.6" height="4.6" fill="#000"/>
<rect x="397.26" y="477.31" width="4.6" height="4.6" fill="#000"/>
<rect x="398.83" y="473.43" width="4.6" height="4.6" fill="#000"/>
<rect x="400.5" y="470.45" width="4.6" height="4.6" fill="#000"/>
<rect x="402.27" y="468.07" width="4.6" height="4.6" fill="#000"/>
<rect x="404.14" y="465.92" width="4.6" height="4.6" fill="#000"/>
<rect x="406.13" y="463.64" width="4.6" height="4.6" fill="#000"/>
<rect x="408.25" y="461.46" width="4.6" height="4.6" fill="#000"/>
<rect x="410.51" y="459.39" width="4.6" height="4.6" fill="#000"/>
<rect x="412.93" y="457.45" width="4.6" height="4.6" fill="#000"/>
<rect x="415.52" y="455.13" width="4.6" height="4.6" fill="#000"/>
<rect x="418.3" y="451.97" width="4.6" height="4.6" fill="#000"/>
<rect x="421.29" y="449.46" width="4.6" height="4.6" fill="#000"/>
<rect x="424.53" y="447.25" width="4.6" height="4.6" fill="#000"/>
<rect x="428.03" y="445.11" width="4.6" height="4.6" fill="#000"/>
<rect x="431.84" y="442.84" width="4.6" height="4.6" fill="#000"/>
<rect x="435.99" y="440.12" width="4.6" height="4.6" fill="#000"/>
<rect x="440.54" y="436.64" width="4.6" height="4.6" fill="#000"/>
<rect x="445.55" y="432.79" width="4.6" height="4.6" fill="#000"/>
<rect x="451.08" y="429.09" width="4.6" height="4.6" fill="#000"/>
<rect x="457.23" y="425.42" width="4.6" height="4.6" fill="#000"/>
<rect x="464.1" y="421.54" width="4.6" height="4.6" fill="#000"/>
<rect x="471.83" y="416.93" width="4.6" height="4.6" fill="#000"/>
<rect x="480.59" y="411.65" width="4.6" height="4.6" fill="#000"/>
<rect x="490.6" y="405.17" width="4.6" height="4.6" fill="#000"/>
<rect x="502.15" y="398.54" width="4.6" height="4.6" fill="#000"/>
<rect x="515.62" y="390.41" width="4.6" height="4.6" fill="#000"/>
<rect x="531.55" y="380.82" width="4.6" height="4.6" fill="#000"/>
<rect x="550.66" y="370.24" width="4.6" height="4.6" fill="#000"/>
<rect x="554.9" y="380" width="4.6" height="4.6" fill="#000"/>
<rect x="559.5" y="377.5" width="4.6" height="4.6" fill="#000"/>
<rect x="561.6" y="364.5" width="4.6" height="4.6" fill="#000"/>
<rect x="564.3" y="376.4" width="4.6" height="4.6" fill="#000"/>
<rect x="569.6" y="374.3" width="4.6" height="4.6" fill="#000"/>
<rect x="573.8" y="357.5" width="4.6" height="4.6" fill="#000"/>
<rect x="574.3" y="372.2" width="4.6" height="4.6" fill="#000"/>
<rect x="579" y="371.6" width="4.6" height="4.6" fill="#000"/>
<rect x="584.7" y="367.4" width="4.6" height="4.6" fill="#000"/>
<rect x="588" y="348.5" width="4.6" height="4.6" fill="#000"/>
<rect x="591" y="364.9" width="4.6" height="4.6" fill="#000"/>
<rect x="597.1" y="361.9" width="4.6" height="4.6" fill="#000"/>
<rect x="603.2" y="358.9" width="4.6" height="4.6" fill="#000"/>
<rect x="603.2" y="339.4" width="4.6" height="4.6" fill="#000"/>
<rect x="610.2" y="355.9" width="4.6" height="4.6" fill="#000"/>
<rect x="617.2" y="352.3" width="4.6" height="4.6" fill="#000"/>
<rect x="620.8" y="330.8" width="4.6" height="4.6" fill="#000"/>
<rect x="624.8" y="348.9" width="4.6" height="4.6" fill="#000"/>
<rect x="632.2" y="344.9" width="4.6" height="4.6" fill="#000"/>
<rect x="640.8" y="340.8" width="4.6" height="4.6" fill="#000"/>
<rect x="640.8" y="320.6" width="4.6" height="4.6" fill="#000"/>
<rect x="649.9" y="334.9" width="4.6" height="4.6" fill="#000"/>
<rect x="659" y="331.6" width="4.6" height="4.6" fill="#000"/>
<rect x="664.2" y="306.3" width="4.6" height="4.6" fill="#000"/>
<rect x="669" y="325.9" width="4.6" height="4.6" fill="#000"/>
<rect x="679" y="320.6" width="4.6" height="4.6" fill="#000"/>
<polyline points="393.75,473.15 395.41,477.79 397.06,480.77 398.94,474.95 400.81,470.78 402.79,467.08 405.11,463.91 407.42,461.15 410.11,458.4 412.81,455.67 415.72,453.18 419.18,450.58 422.66,447.75 426.81,444.77 431.05,441.69 435.75,438.19 441.42,434.57 447.31,430.65 454.55,426.24 462.17,421.5 470.91,416.12 481.94,409.65 493.96,401.85 509.56,392.79 527.19,382.08 548.89,368.31 578.9,351.35 615.68,328.02 671.12,298.3" fill="none" stroke="#f01010" stroke-width="1.2" stroke-linejoin="round" />
<circle cx="393.75" cy="473.15" r="2.8" fill="#f00"/>
<circle cx="395.41" cy="477.79" r="2.8" fill="#f00"/>
<circle cx="397.06" cy="480.77" r="2.8" fill="#f00"/>
<circle cx="398.94" cy="474.95" r="2.8" fill="#f00"/>
<circle cx="400.81" cy="470.78" r="2.8" fill="#f00"/>
<circle cx="402.79" cy="467.08" r="2.8" fill="#f00"/>
<circle cx="405.11" cy="463.91" r="2.8" fill="#f00"/>
<circle cx="407.42" cy="461.15" r="2.8" fill="#f00"/>
<circle cx="410.11" cy="458.4" r="2.8" fill="#f00"/>
<circle cx="412.81" cy="455.67" r="2.8" fill="#f00"/>
<circle cx="415.72" cy="453.18" r="2.8" fill="#f00"/>
<circle cx="419.18" cy="450.58" r="2.8" fill="#f00"/>
<circle cx="422.66" cy="447.75" r="2.8" fill="#f00"/>
<circle cx="426.81" cy="444.77" r="2.8" fill="#f00"/>
<circle cx="431.05" cy="441.69" r="2.8" fill="#f00"/>
<circle cx="435.75" cy="438.19" r="2.8" fill="#f00"/>
<circle cx="441.42" cy="434.57" r="2.8" fill="#f00"/>
<circle cx="447.31" cy="430.65" r="2.8" fill="#f00"/>
<circle cx="454.55" cy="426.24" r="2.8" fill="#f00"/>
<circle cx="462.17" cy="421.5" r="2.8" fill="#f00"/>
<circle cx="470.91" cy="416.12" r="2.8" fill="#f00"/>
<circle cx="481.94" cy="409.65" r="2.8" fill="#f00"/>
<circle cx="493.96" cy="401.85" r="2.8" fill="#f00"/>
<circle cx="509.56" cy="392.79" r="2.8" fill="#f00"/>
<circle cx="527.19" cy="382.08" r="2.8" fill="#f00"/>
<circle cx="548.89" cy="368.31" r="2.8" fill="#f00"/>
<circle cx="578.9" cy="351.35" r="2.8" fill="#f00"/>
<circle cx="615.68" cy="328.02" r="2.8" fill="#f00"/>
<circle cx="671.12" cy="298.3" r="2.8" fill="#f00"/>
<polyline points="418.18,451.32 422.25,447.09 426.32,444.18 430.39,441.68 434.46,439.25 438.53,436.55 442.59,433.43 446.66,430.27 450.73,427.38 454.8,424.82 458.87,422.4 462.94,420.1 467.01,417.79 471.07,415.36 475.14,412.91 479.21,410.47 483.28,408.01 487.35,405.52 491.42,403.04 495.49,400.75" fill="none" stroke="#0000f0" stroke-width="2.4" stroke-linejoin="round" />
<path d="M418.18 447.69L421.48 453.96L414.88 453.96Z" fill="#0000f0"/>
<path d="M422.25 443.46L425.55 449.73L418.95 449.73Z" fill="#0000f0"/>
<path d="M426.32 440.55L429.62 446.82L423.02 446.82Z" fill="#0000f0"/>
<path d="M430.39 438.05L433.69 444.32L427.09 444.32Z" fill="#0000f0"/>
<path d="M434.46 435.62L437.76 441.89L431.16 441.89Z" fill="#0000f0"/>
<path d="M438.53 432.92L441.83 439.19L435.23 439.19Z" fill="#0000f0"/>
<path d="M442.59 429.8L445.89 436.07L439.29 436.07Z" fill="#0000f0"/>
<path d="M446.66 426.64L449.96 432.91L443.36 432.91Z" fill="#0000f0"/>
<path d="M450.73 423.75L454.03 430.02L447.43 430.02Z" fill="#0000f0"/>
<path d="M454.8 421.19L458.1 427.46L451.5 427.46Z" fill="#0000f0"/>
<path d="M458.87 418.77L462.17 425.04L455.57 425.04Z" fill="#0000f0"/>
<path d="M462.94 416.47L466.24 422.74L459.64 422.74Z" fill="#0000f0"/>
<path d="M467.01 414.16L470.31 420.43L463.71 420.43Z" fill="#0000f0"/>
<path d="M471.07 411.73L474.37 418L467.77 418Z" fill="#0000f0"/>
<path d="M475.14 409.28L478.44 415.55L471.84 415.55Z" fill="#0000f0"/>
<path d="M479.21 406.84L482.51 413.11L475.91 413.11Z" fill="#0000f0"/>
<path d="M483.28 404.38L486.58 410.65L479.98 410.65Z" fill="#0000f0"/>
<path d="M487.35 401.89L490.65 408.16L484.05 408.16Z" fill="#0000f0"/>
<path d="M491.42 399.41L494.72 405.68L488.12 405.68Z" fill="#0000f0"/>
<path d="M495.49 397.12L498.79 403.39L492.19 403.39Z" fill="#0000f0"/>
<polyline points="394.3,486.2 394.37,486.08 394.45,485.92 394.54,485.73 394.66,485.53 394.79,485.3 394.94,485.07 395.11,484.83 395.3,484.6 395.53,484.38 395.8,484.15 396.09,483.93 396.41,483.69 396.72,483.45 397.04,483.19 397.33,482.91 397.6,482.6 397.84,482.27 398.07,481.93 398.28,481.57 398.49,481.19 398.69,480.79 398.89,480.38 399.09,479.95 399.3,479.5 399.51,479.03 399.71,478.52 399.91,478 400.11,477.46 400.32,476.91 400.53,476.36 400.76,475.82 401,475.3 401.25,474.79 401.52,474.27 401.79,473.76 402.07,473.26 402.37,472.75 402.67,472.26 402.98,471.77 403.3,471.3 403.63,470.84 403.97,470.4 404.32,469.96 404.68,469.54 405.05,469.11 405.43,468.68 405.81,468.25 406.2,467.8 406.6,467.34 407,466.87 407.41,466.39 407.83,465.91 408.26,465.43 408.7,464.95 409.14,464.47 409.6,464 410.08,463.53 410.57,463.04 411.08,462.56 411.6,462.08 412.12,461.61 412.63,461.15 413.12,460.71 413.6,460.3 414.05,459.93 414.47,459.6 414.88,459.31 415.28,459.02 415.68,458.72 416.09,458.4 416.53,458.03 417,457.6 417.49,457.1 418,456.53 418.52,455.93 419.05,455.29 419.6,454.65 420.18,454.01 420.78,453.39 421.4,452.8 422.06,452.24 422.75,451.69 423.48,451.15 424.22,450.61 424.97,450.09 425.72,449.58 426.47,449.08 427.2,448.6 427.92,448.14 428.63,447.7 429.34,447.28 430.06,446.87 430.77,446.46 431.48,446.05 432.19,445.63 432.9,445.2 433.58,444.78 434.22,444.39 434.84,444.01 435.47,443.62 436.13,443.2 436.86,442.72 437.67,442.16 438.6,441.5 439.67,440.71 440.87,439.78 442.16,438.77 443.51,437.71 444.89,436.64 446.25,435.58 447.57,434.59 448.8,433.7 449.96,432.9 451.08,432.15 452.17,431.45 453.24,430.77 454.3,430.12 455.35,429.49 456.42,428.85 457.5,428.2 458.6,427.55 459.7,426.92 460.8,426.3 461.9,425.68 463,425.07 464.1,424.45 465.2,423.83 466.3,423.2 467.39,422.56 468.48,421.92 469.57,421.27 470.65,420.62 471.73,419.97 472.82,419.31 473.91,418.66 475,418 476.1,417.34 477.2,416.68 478.3,416.02 479.4,415.36 480.5,414.69 481.6,414.03 482.7,413.36 483.8,412.7 484.9,412.03 486.01,411.35 487.12,410.66 488.23,409.98 489.33,409.31 490.41,408.65 491.47,408.01 492.5,407.4 493.42,406.87 494.19,406.44 494.89,406.07 495.6,405.69 496.39,405.26 497.34,404.74 498.52,404.07 500,403.2 501.83,402.11 503.96,400.84 506.31,399.42 508.82,397.9 511.43,396.33 514.05,394.74 516.63,393.18 519.1,391.7 521.47,390.27 523.81,388.85 526.14,387.44 528.48,386.03 530.84,384.61 533.24,383.18 535.68,381.75 538.2,380.3 540.81,378.83 543.5,377.35 546.26,375.85 549.04,374.34 551.84,372.84 554.61,371.34 557.34,369.86 560,368.4 562.59,366.96 565.13,365.54 567.63,364.12 570.11,362.72 572.58,361.32 575.04,359.92 577.51,358.51 580,357.1 582.47,355.7 584.88,354.32 587.28,352.96 589.69,351.58 592.13,350.18 594.65,348.75 597.26,347.26 600,345.7 602.93,344.03 606.04,342.25 609.27,340.4 612.56,338.51 615.84,336.64 619.05,334.82 622.12,333.09 625,331.5 627.67,330.06 630.19,328.73 632.59,327.49 634.92,326.3 637.2,325.14 639.46,323.97 641.75,322.77 644.1,321.5 646.49,320.17 648.88,318.81 651.28,317.42 653.67,316.03 656.06,314.62 658.45,313.23 660.83,311.85 663.2,310.5 665.69,309.1 668.36,307.61 671.1,306.1 673.79,304.61 676.34,303.21 678.63,301.95 680.55,300.9 682,300.1" fill="none" stroke="#117a11" stroke-width="2.1" stroke-linejoin="round" />
</g>
<g stroke="#111" stroke-width="1.5">
<line x1="43" y1="198.8" x2="43" y2="194.8"/>
<line x1="43" y1="2.2" x2="43" y2="6.2"/>
<line x1="93.56" y1="198.8" x2="93.56" y2="194.8"/>
<line x1="93.56" y1="2.2" x2="93.56" y2="6.2"/>
<line x1="144.12" y1="198.8" x2="144.12" y2="194.8"/>
<line x1="144.12" y1="2.2" x2="144.12" y2="6.2"/>
<line x1="194.68" y1="198.8" x2="194.68" y2="194.8"/>
<line x1="194.68" y1="2.2" x2="194.68" y2="6.2"/>
<line x1="245.24" y1="198.8" x2="245.24" y2="194.8"/>
<line x1="245.24" y1="2.2" x2="245.24" y2="6.2"/>
<line x1="295.79" y1="198.8" x2="295.79" y2="194.8"/>
<line x1="295.79" y1="2.2" x2="295.79" y2="6.2"/>
<line x1="68.28" y1="198.8" x2="68.28" y2="196.6"/>
<line x1="68.28" y1="2.2" x2="68.28" y2="4.4"/>
<line x1="118.84" y1="198.8" x2="118.84" y2="196.6"/>
<line x1="118.84" y1="2.2" x2="118.84" y2="4.4"/>
<line x1="169.4" y1="198.8" x2="169.4" y2="196.6"/>
<line x1="169.4" y1="2.2" x2="169.4" y2="4.4"/>
<line x1="219.96" y1="198.8" x2="219.96" y2="196.6"/>
<line x1="219.96" y1="2.2" x2="219.96" y2="4.4"/>
<line x1="270.51" y1="198.8" x2="270.51" y2="196.6"/>
<line x1="270.51" y1="2.2" x2="270.51" y2="4.4"/>
<line x1="321.07" y1="198.8" x2="321.07" y2="196.6"/>
<line x1="321.07" y1="2.2" x2="321.07" y2="4.4"/>
<line x1="43" y1="182.42" x2="47" y2="182.42"/>
<line x1="329.5" y1="182.42" x2="325.5" y2="182.42"/>
<line x1="43" y1="149.65" x2="47" y2="149.65"/>
<line x1="329.5" y1="149.65" x2="325.5" y2="149.65"/>
<line x1="43" y1="116.88" x2="47" y2="116.88"/>
<line x1="329.5" y1="116.88" x2="325.5" y2="116.88"/>
<line x1="43" y1="84.12" x2="47" y2="84.12"/>
<line x1="329.5" y1="84.12" x2="325.5" y2="84.12"/>
<line x1="43" y1="51.35" x2="47" y2="51.35"/>
<line x1="329.5" y1="51.35" x2="325.5" y2="51.35"/>
<line x1="43" y1="18.58" x2="47" y2="18.58"/>
<line x1="329.5" y1="18.58" x2="325.5" y2="18.58"/>
<line x1="43" y1="198.8" x2="45.2" y2="198.8"/>
<line x1="329.5" y1="198.8" x2="327.3" y2="198.8"/>
<line x1="43" y1="166.03" x2="45.2" y2="166.03"/>
<line x1="329.5" y1="166.03" x2="327.3" y2="166.03"/>
<line x1="43" y1="133.27" x2="45.2" y2="133.27"/>
<line x1="329.5" y1="133.27" x2="327.3" y2="133.27"/>
<line x1="43" y1="100.5" x2="45.2" y2="100.5"/>
<line x1="329.5" y1="100.5" x2="327.3" y2="100.5"/>
<line x1="43" y1="67.73" x2="45.2" y2="67.73"/>
<line x1="329.5" y1="67.73" x2="327.3" y2="67.73"/>
<line x1="43" y1="34.97" x2="45.2" y2="34.97"/>
<line x1="329.5" y1="34.97" x2="327.3" y2="34.97"/>
<line x1="43" y1="2.2" x2="45.2" y2="2.2"/>
<line x1="329.5" y1="2.2" x2="327.3" y2="2.2"/>
<line x1="399.7" y1="199.3" x2="399.7" y2="195.3"/>
<line x1="399.7" y1="4" x2="399.7" y2="8"/>
<line x1="449.5" y1="199.3" x2="449.5" y2="195.3"/>
<line x1="449.5" y1="4" x2="449.5" y2="8"/>
<line x1="499.3" y1="199.3" x2="499.3" y2="195.3"/>
<line x1="499.3" y1="4" x2="499.3" y2="8"/>
<line x1="549.1" y1="199.3" x2="549.1" y2="195.3"/>
<line x1="549.1" y1="4" x2="549.1" y2="8"/>
<line x1="598.9" y1="199.3" x2="598.9" y2="195.3"/>
<line x1="598.9" y1="4" x2="598.9" y2="8"/>
<line x1="648.7" y1="199.3" x2="648.7" y2="195.3"/>
<line x1="648.7" y1="4" x2="648.7" y2="8"/>
<line x1="424.6" y1="199.3" x2="424.6" y2="197.1"/>
<line x1="424.6" y1="4" x2="424.6" y2="6.2"/>
<line x1="474.4" y1="199.3" x2="474.4" y2="197.1"/>
<line x1="474.4" y1="4" x2="474.4" y2="6.2"/>
<line x1="524.2" y1="199.3" x2="524.2" y2="197.1"/>
<line x1="524.2" y1="4" x2="524.2" y2="6.2"/>
<line x1="574" y1="199.3" x2="574" y2="197.1"/>
<line x1="574" y1="4" x2="574" y2="6.2"/>
<line x1="623.8" y1="199.3" x2="623.8" y2="197.1"/>
<line x1="623.8" y1="4" x2="623.8" y2="6.2"/>
<line x1="673.6" y1="199.3" x2="673.6" y2="197.1"/>
<line x1="673.6" y1="4" x2="673.6" y2="6.2"/>
<line x1="399.7" y1="185.35" x2="403.7" y2="185.35"/>
<line x1="681.9" y1="185.35" x2="677.9" y2="185.35"/>
<line x1="399.7" y1="157.45" x2="403.7" y2="157.45"/>
<line x1="681.9" y1="157.45" x2="677.9" y2="157.45"/>
<line x1="399.7" y1="129.55" x2="403.7" y2="129.55"/>
<line x1="681.9" y1="129.55" x2="677.9" y2="129.55"/>
<line x1="399.7" y1="101.65" x2="403.7" y2="101.65"/>
<line x1="681.9" y1="101.65" x2="677.9" y2="101.65"/>
<line x1="399.7" y1="73.75" x2="403.7" y2="73.75"/>
<line x1="681.9" y1="73.75" x2="677.9" y2="73.75"/>
<line x1="399.7" y1="45.85" x2="403.7" y2="45.85"/>
<line x1="681.9" y1="45.85" x2="677.9" y2="45.85"/>
<line x1="399.7" y1="17.95" x2="403.7" y2="17.95"/>
<line x1="681.9" y1="17.95" x2="677.9" y2="17.95"/>
<line x1="399.7" y1="199.3" x2="401.9" y2="199.3"/>
<line x1="681.9" y1="199.3" x2="679.7" y2="199.3"/>
<line x1="399.7" y1="171.4" x2="401.9" y2="171.4"/>
<line x1="681.9" y1="171.4" x2="679.7" y2="171.4"/>
<line x1="399.7" y1="143.5" x2="401.9" y2="143.5"/>
<line x1="681.9" y1="143.5" x2="679.7" y2="143.5"/>
<line x1="399.7" y1="115.6" x2="401.9" y2="115.6"/>
<line x1="681.9" y1="115.6" x2="679.7" y2="115.6"/>
<line x1="399.7" y1="87.7" x2="401.9" y2="87.7"/>
<line x1="681.9" y1="87.7" x2="679.7" y2="87.7"/>
<line x1="399.7" y1="59.8" x2="401.9" y2="59.8"/>
<line x1="681.9" y1="59.8" x2="679.7" y2="59.8"/>
<line x1="399.7" y1="31.9" x2="401.9" y2="31.9"/>
<line x1="681.9" y1="31.9" x2="679.7" y2="31.9"/>
<line x1="399.7" y1="4" x2="401.9" y2="4"/>
<line x1="681.9" y1="4" x2="679.7" y2="4"/>
<line x1="44.7" y1="484.9" x2="44.7" y2="480.9"/>
<line x1="44.7" y1="273.9" x2="44.7" y2="277.9"/>
<line x1="95.03" y1="484.9" x2="95.03" y2="480.9"/>
<line x1="95.03" y1="273.9" x2="95.03" y2="277.9"/>
<line x1="145.36" y1="484.9" x2="145.36" y2="480.9"/>
<line x1="145.36" y1="273.9" x2="145.36" y2="277.9"/>
<line x1="195.69" y1="484.9" x2="195.69" y2="480.9"/>
<line x1="195.69" y1="273.9" x2="195.69" y2="277.9"/>
<line x1="246.02" y1="484.9" x2="246.02" y2="480.9"/>
<line x1="246.02" y1="273.9" x2="246.02" y2="277.9"/>
<line x1="296.35" y1="484.9" x2="296.35" y2="480.9"/>
<line x1="296.35" y1="273.9" x2="296.35" y2="277.9"/>
<line x1="69.86" y1="484.9" x2="69.86" y2="482.7"/>
<line x1="69.86" y1="273.9" x2="69.86" y2="276.1"/>
<line x1="120.19" y1="484.9" x2="120.19" y2="482.7"/>
<line x1="120.19" y1="273.9" x2="120.19" y2="276.1"/>
<line x1="170.52" y1="484.9" x2="170.52" y2="482.7"/>
<line x1="170.52" y1="273.9" x2="170.52" y2="276.1"/>
<line x1="220.85" y1="484.9" x2="220.85" y2="482.7"/>
<line x1="220.85" y1="273.9" x2="220.85" y2="276.1"/>
<line x1="271.18" y1="484.9" x2="271.18" y2="482.7"/>
<line x1="271.18" y1="273.9" x2="271.18" y2="276.1"/>
<line x1="321.51" y1="484.9" x2="321.51" y2="482.7"/>
<line x1="321.51" y1="273.9" x2="321.51" y2="276.1"/>
<line x1="44.7" y1="473.79" x2="48.7" y2="473.79"/>
<line x1="329.9" y1="473.79" x2="325.9" y2="473.79"/>
<line x1="44.7" y1="440.48" x2="48.7" y2="440.48"/>
<line x1="329.9" y1="440.48" x2="325.9" y2="440.48"/>
<line x1="44.7" y1="407.16" x2="48.7" y2="407.16"/>
<line x1="329.9" y1="407.16" x2="325.9" y2="407.16"/>
<line x1="44.7" y1="373.85" x2="48.7" y2="373.85"/>
<line x1="329.9" y1="373.85" x2="325.9" y2="373.85"/>
<line x1="44.7" y1="340.53" x2="48.7" y2="340.53"/>
<line x1="329.9" y1="340.53" x2="325.9" y2="340.53"/>
<line x1="44.7" y1="307.22" x2="48.7" y2="307.22"/>
<line x1="329.9" y1="307.22" x2="325.9" y2="307.22"/>
<line x1="44.7" y1="273.9" x2="48.7" y2="273.9"/>
<line x1="329.9" y1="273.9" x2="325.9" y2="273.9"/>
<line x1="44.7" y1="457.14" x2="46.9" y2="457.14"/>
<line x1="329.9" y1="457.14" x2="327.7" y2="457.14"/>
<line x1="44.7" y1="423.82" x2="46.9" y2="423.82"/>
<line x1="329.9" y1="423.82" x2="327.7" y2="423.82"/>
<line x1="44.7" y1="390.51" x2="46.9" y2="390.51"/>
<line x1="329.9" y1="390.51" x2="327.7" y2="390.51"/>
<line x1="44.7" y1="357.19" x2="46.9" y2="357.19"/>
<line x1="329.9" y1="357.19" x2="327.7" y2="357.19"/>
<line x1="44.7" y1="323.87" x2="46.9" y2="323.87"/>
<line x1="329.9" y1="323.87" x2="327.7" y2="323.87"/>
<line x1="44.7" y1="290.56" x2="46.9" y2="290.56"/>
<line x1="329.9" y1="290.56" x2="327.7" y2="290.56"/>
<line x1="393.6" y1="486" x2="393.6" y2="482"/>
<line x1="393.6" y1="272.7" x2="393.6" y2="276.7"/>
<line x1="444.46" y1="486" x2="444.46" y2="482"/>
<line x1="444.46" y1="272.7" x2="444.46" y2="276.7"/>
<line x1="495.32" y1="486" x2="495.32" y2="482"/>
<line x1="495.32" y1="272.7" x2="495.32" y2="276.7"/>
<line x1="546.18" y1="486" x2="546.18" y2="482"/>
<line x1="546.18" y1="272.7" x2="546.18" y2="276.7"/>
<line x1="597.04" y1="486" x2="597.04" y2="482"/>
<line x1="597.04" y1="272.7" x2="597.04" y2="276.7"/>
<line x1="647.89" y1="486" x2="647.89" y2="482"/>
<line x1="647.89" y1="272.7" x2="647.89" y2="276.7"/>
<line x1="419.03" y1="486" x2="419.03" y2="483.8"/>
<line x1="419.03" y1="272.7" x2="419.03" y2="274.9"/>
<line x1="469.89" y1="486" x2="469.89" y2="483.8"/>
<line x1="469.89" y1="272.7" x2="469.89" y2="274.9"/>
<line x1="520.75" y1="486" x2="520.75" y2="483.8"/>
<line x1="520.75" y1="272.7" x2="520.75" y2="274.9"/>
<line x1="571.61" y1="486" x2="571.61" y2="483.8"/>
<line x1="571.61" y1="272.7" x2="571.61" y2="274.9"/>
<line x1="622.46" y1="486" x2="622.46" y2="483.8"/>
<line x1="622.46" y1="272.7" x2="622.46" y2="274.9"/>
<line x1="673.32" y1="486" x2="673.32" y2="483.8"/>
<line x1="673.32" y1="272.7" x2="673.32" y2="274.9"/>
<line x1="393.6" y1="486" x2="397.6" y2="486"/>
<line x1="681.8" y1="486" x2="677.8" y2="486"/>
<line x1="393.6" y1="446.01" x2="397.6" y2="446.01"/>
<line x1="681.8" y1="446.01" x2="677.8" y2="446.01"/>
<line x1="393.6" y1="406.01" x2="397.6" y2="406.01"/>
<line x1="681.8" y1="406.01" x2="677.8" y2="406.01"/>
<line x1="393.6" y1="366.02" x2="397.6" y2="366.02"/>
<line x1="681.8" y1="366.02" x2="677.8" y2="366.02"/>
<line x1="393.6" y1="326.02" x2="397.6" y2="326.02"/>
<line x1="681.8" y1="326.02" x2="677.8" y2="326.02"/>
<line x1="393.6" y1="286.03" x2="397.6" y2="286.03"/>
<line x1="681.8" y1="286.03" x2="677.8" y2="286.03"/>
<line x1="393.6" y1="466" x2="395.8" y2="466"/>
<line x1="681.8" y1="466" x2="679.6" y2="466"/>
<line x1="393.6" y1="426.01" x2="395.8" y2="426.01"/>
<line x1="681.8" y1="426.01" x2="679.6" y2="426.01"/>
<line x1="393.6" y1="386.02" x2="395.8" y2="386.02"/>
<line x1="681.8" y1="386.02" x2="679.6" y2="386.02"/>
<line x1="393.6" y1="346.02" x2="395.8" y2="346.02"/>
<line x1="681.8" y1="346.02" x2="679.6" y2="346.02"/>
<line x1="393.6" y1="306.03" x2="395.8" y2="306.03"/>
<line x1="681.8" y1="306.03" x2="679.6" y2="306.03"/>
</g>
<rect x="43" y="2.2" width="286.5" height="196.6" fill="none" stroke="#111" stroke-width="1.7"/>
<rect x="399.7" y="4" width="282.2" height="195.3" fill="none" stroke="#111" stroke-width="1.7"/>
<rect x="44.7" y="273.9" width="285.2" height="211" fill="none" stroke="#111" stroke-width="1.7"/>
<rect x="393.6" y="272.7" width="288.2" height="213.3" fill="none" stroke="#111" stroke-width="1.7"/>
<text x="43" y="215.1" font-size="15.3" text-anchor="middle" >300</text>
<text x="93.56" y="215.1" font-size="15.3" text-anchor="middle" >600</text>
<text x="144.12" y="215.1" font-size="15.3" text-anchor="middle" >900</text>
<text x="194.68" y="215.1" font-size="15.3" text-anchor="middle" >1200</text>
<text x="245.24" y="215.1" font-size="15.3" text-anchor="middle" >1500</text>
<text x="295.79" y="215.1" font-size="15.3" text-anchor="middle" >1800</text>
<text x="399.7" y="215.5" font-size="15.1" text-anchor="middle" >300</text>
<text x="449.5" y="215.5" font-size="15.1" text-anchor="middle" >600</text>
<text x="499.3" y="215.5" font-size="15.1" text-anchor="middle" >900</text>
<text x="549.1" y="215.5" font-size="15.1" text-anchor="middle" >1200</text>
<text x="598.9" y="215.5" font-size="15.1" text-anchor="middle" >1500</text>
<text x="648.7" y="215.5" font-size="15.1" text-anchor="middle" >1800</text>
<text x="44.7" y="502" font-size="16" text-anchor="middle" >300</text>
<text x="95.03" y="502" font-size="16" text-anchor="middle" >600</text>
<text x="145.36" y="502" font-size="16" text-anchor="middle" >900</text>
<text x="195.69" y="502" font-size="16" text-anchor="middle" >1200</text>
<text x="246.02" y="502" font-size="16" text-anchor="middle" >1500</text>
<text x="296.35" y="502" font-size="16" text-anchor="middle" >1800</text>
<text x="393.6" y="503" font-size="15.9" text-anchor="middle" >300</text>
<text x="444.46" y="503" font-size="15.9" text-anchor="middle" >600</text>
<text x="495.32" y="503" font-size="15.9" text-anchor="middle" >900</text>
<text x="546.18" y="503" font-size="15.9" text-anchor="middle" >1200</text>
<text x="597.04" y="503" font-size="15.9" text-anchor="middle" >1500</text>
<text x="647.89" y="503" font-size="15.9" text-anchor="middle" >1800</text>
<text x="40.5" y="186.89" font-size="15.3" text-anchor="end" >0</text>
<text x="40.5" y="154.13" font-size="15.3" text-anchor="end" >20</text>
<text x="40.5" y="121.36" font-size="15.3" text-anchor="end" >40</text>
<text x="40.5" y="88.59" font-size="15.3" text-anchor="end" >60</text>
<text x="40.5" y="55.83" font-size="15.3" text-anchor="end" >80</text>
<text x="40.5" y="23.06" font-size="15.3" text-anchor="end" >100</text>
<text x="397.1" y="189.76" font-size="15.1" text-anchor="end" >0</text>
<text x="397.1" y="161.86" font-size="15.1" text-anchor="end" >1000</text>
<text x="397.1" y="133.96" font-size="15.1" text-anchor="end" >2000</text>
<text x="397.1" y="106.06" font-size="15.1" text-anchor="end" >3000</text>
<text x="397.1" y="78.16" font-size="15.1" text-anchor="end" >4000</text>
<text x="397.1" y="50.26" font-size="15.1" text-anchor="end" >5000</text>
<text x="397.1" y="22.36" font-size="15.1" text-anchor="end" >6000</text>
<text x="41.8" y="477.77" font-size="13.9" text-anchor="end" >0.0</text>
<text x="41.8" y="444.46" font-size="13.9" text-anchor="end" >0.3</text>
<text x="41.8" y="411.14" font-size="13.9" text-anchor="end" >0.6</text>
<text x="41.8" y="377.82" font-size="13.9" text-anchor="end" >0.9</text>
<text x="41.8" y="344.51" font-size="13.9" text-anchor="end" >1.2</text>
<text x="41.8" y="311.19" font-size="13.9" text-anchor="end" >1.5</text>
<text x="41.8" y="277.88" font-size="13.9" text-anchor="end" >1.8</text>
<text x="390.4" y="490.58" font-size="15.6" text-anchor="end" >0</text>
<text x="390.4" y="450.59" font-size="15.6" text-anchor="end" >3</text>
<text x="390.4" y="410.6" font-size="15.6" text-anchor="end" >6</text>
<text x="390.4" y="370.6" font-size="15.6" text-anchor="end" >9</text>
<text x="390.4" y="330.61" font-size="15.6" text-anchor="end" >12</text>
<text x="390.4" y="290.62" font-size="15.6" text-anchor="end" >15</text>
<text x="185.65" y="232.5" font-size="15.56" text-anchor="middle" >Wavelength (nm)</text>
<text x="540.85" y="232.2" font-size="15.9" text-anchor="middle" >Wavelength (nm)</text>
<text x="186.3" y="518.6" font-size="16.65" text-anchor="middle" >Wavelength (nm)</text>
<text x="537" y="518.1" font-size="16.65" text-anchor="middle" >Wavelength (nm)</text>
<text x="0" y="0" font-size="15.5" text-anchor="middle" transform="translate(13.4 98) rotate(-90)">LSP Q Factors</text>
<text x="0" y="0" font-size="15.5" text-anchor="middle" transform="translate(355 96.45) rotate(-90)">SPP Q Factors</text>
<text x="0" y="0" font-size="16.5" text-anchor="middle" transform="translate(13.7 378.4) rotate(-90)">n</text>
<text x="0" y="0" font-size="18.2" text-anchor="middle" transform="translate(371.5 375.2) rotate(-90)">k</text>
<text x="52.1" y="25.8" font-size="17.7" text-anchor="start" >(a)</text>
<text x="409.2" y="27.7" font-size="18.1" text-anchor="start" >(b)</text>
<text x="53.4" y="298.6" font-size="18.1" text-anchor="start" >(c)</text>
<text x="401.3" y="297.7" font-size="18.5" text-anchor="start" >(d)</text>
<line x1="229.5" y1="34.6" x2="257.2" y2="34.6" stroke="#000" stroke-width="1.2"/>
<line x1="229.5" y1="51.4" x2="257.2" y2="51.4" stroke="#f01010" stroke-width="1.2"/>
<line x1="229.5" y1="67" x2="257.2" y2="67" stroke="#0000f0" stroke-width="1.3"/>
<line x1="229.5" y1="82.5" x2="257.2" y2="82.5" stroke="#117a11" stroke-width="2.7"/>
<rect x="240.95" y="32.2" width="4.8" height="4.8" fill="#000"/>
<circle cx="243.35" cy="51.4" r="3.2" fill="#f00"/>
<path d="M243.35 63.59L246.45 69.48L240.25 69.48Z" fill="#0000f0"/>
<text x="260.8" y="38" font-size="11.8" text-anchor="start" >Palik</text>
<text x="260.8" y="54.8" font-size="11.8" text-anchor="start" >J&amp;C</text>
<text x="260.8" y="70.4" font-size="11.8" text-anchor="start" >N&amp;S</text>
<text x="260.8" y="85.9" font-size="11.8" text-anchor="start" >UNSW</text>
<line x1="414.5" y1="54.1" x2="442.4" y2="54.1" stroke="#000" stroke-width="1.2"/>
<line x1="414.5" y1="70.6" x2="442.4" y2="70.6" stroke="#f01010" stroke-width="1.2"/>
<line x1="414.5" y1="85.8" x2="442.4" y2="85.8" stroke="#0000f0" stroke-width="1.3"/>
<line x1="414.5" y1="104.2" x2="442.4" y2="104.2" stroke="#117a11" stroke-width="2.7"/>
<rect x="426.05" y="51.7" width="4.8" height="4.8" fill="#000"/>
<circle cx="428.45" cy="70.6" r="3.2" fill="#f00"/>
<path d="M428.45 82.39L431.55 88.28L425.35 88.28Z" fill="#0000f0"/>
<text x="446.2" y="57.7" font-size="11.7" text-anchor="start" >Palik</text>
<text x="446.2" y="74.2" font-size="11.7" text-anchor="start" >J&amp;C</text>
<text x="446.2" y="89.4" font-size="11.7" text-anchor="start" >N&amp;S</text>
<text x="446.2" y="107.8" font-size="11.7" text-anchor="start" >UNSW</text>
<line x1="137.2" y1="326.5" x2="166.2" y2="326.5" stroke="#000" stroke-width="1.2"/>
<line x1="137.2" y1="343.7" x2="166.2" y2="343.7" stroke="#f01010" stroke-width="1.2"/>
<line x1="137.2" y1="359.7" x2="166.2" y2="359.7" stroke="#0000f0" stroke-width="1.3"/>
<line x1="137.2" y1="375.6" x2="166.2" y2="375.6" stroke="#117a11" stroke-width="2.7"/>
<rect x="149.3" y="324.1" width="4.8" height="4.8" fill="#000"/>
<circle cx="151.7" cy="343.7" r="3.2" fill="#f00"/>
<path d="M151.7 356.29L154.8 362.18L148.6 362.18Z" fill="#0000f0"/>
<text x="169.6" y="330.6" font-size="12.2" text-anchor="start" >Palik</text>
<text x="169.6" y="347.8" font-size="12.2" text-anchor="start" >J&amp;C</text>
<text x="169.6" y="363.8" font-size="12.2" text-anchor="start" >N&amp;S</text>
<text x="169.6" y="379.7" font-size="12.2" text-anchor="start" >UNSW</text>
<line x1="572.2" y1="410.2" x2="600.9" y2="410.2" stroke="#000" stroke-width="1.2"/>
<line x1="572.2" y1="427.1" x2="600.9" y2="427.1" stroke="#f01010" stroke-width="1.2"/>
<line x1="572.2" y1="443.4" x2="600.9" y2="443.4" stroke="#0000f0" stroke-width="1.3"/>
<line x1="572.2" y1="459.2" x2="600.9" y2="459.2" stroke="#117a11" stroke-width="2.7"/>
<rect x="584.15" y="407.8" width="4.8" height="4.8" fill="#000"/>
<circle cx="586.55" cy="427.1" r="3.2" fill="#f00"/>
<path d="M586.55 439.99L589.65 445.88L583.45 445.88Z" fill="#0000f0"/>
<text x="604.2" y="414.3" font-size="12.2" text-anchor="start" >Palik</text>
<text x="604.2" y="431.2" font-size="12.2" text-anchor="start" >J&amp;C</text>
<text x="604.2" y="447.5" font-size="12.2" text-anchor="start" >N&amp;S</text>
<text x="604.2" y="463.3" font-size="12.2" text-anchor="start" >UNSW</text>
</g></svg>
</body></html>
